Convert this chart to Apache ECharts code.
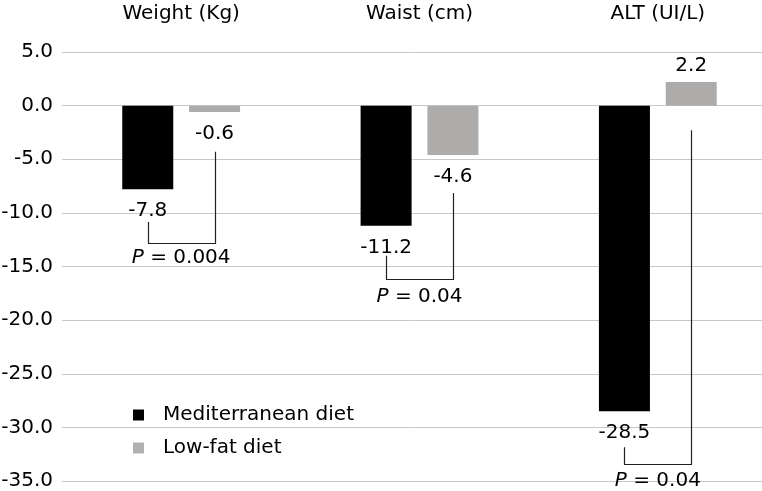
<!DOCTYPE html>
<html>
<head>
<meta charset="utf-8">
<script src="https://cdn.jsdelivr.net/npm/echarts@6/dist/echarts.min.js"></script>
<style>
html,body{margin:0;padding:0;background:#fff;}
#chart{width:762px;height:491px;}
</style>
</head>
<body>
<div id="chart"></div>
<script>
// ---- data ----
var categories = ['Weight (Kg)', 'Waist (cm)', 'ALT (UI/L)'];
var seriesNames = ['Mediterranean diet', 'Low-fat diet'];
var mediterranean = [-7.8, -11.2, -28.5];
var lowFat = [-0.6, -4.6, 2.2];
var yTicks = [5, 0, -5, -10, -15, -20, -25, -30, -35];
// significance brackets (value units): left top, right top, bottom, text position
var pLabels = ['0.004', '0.04', '0.04'];
var bracketLeftTop = [-10.85, -14.0, -31.85];
var bracketRightTop = [-4.3, -8.15, -2.3];
var bracketBottom = [-12.8, -16.2, -33.4];
var pTextPos = [-14.2, -17.85, -35.0];

// ---- style ----
var FONT = 'DejaVu Sans';
var FS = 20;
var BAR_W = 51;
var BAR_GAP = 0.31;
var barOffset = (BAR_W + BAR_W * BAR_GAP) / 2;

var chart = echarts.init(document.getElementById('chart'), null, {renderer: 'canvas'});

var bracketData = categories.map(function (c, i) {
  return [i, bracketLeftTop[i], bracketRightTop[i], bracketBottom[i], pTextPos[i]];
});

function barItem(v) {
  return {value: v, label: {position: v >= 0 ? 'top' : 'bottom', distance: v >= 0 ? 6 : 12}};
}

var option = {
  animation: false,
  textStyle: {fontFamily: FONT},
  grid: {left: 62, top: 52, bottom: 10, width: 715, containLabel: false, outerBoundsMode: 'none'},
  legend: {
    orient: 'vertical', left: 128, top: 400, itemWidth: 11, itemHeight: 11, itemGap: 13,
    icon: 'rect',
    textStyle: {fontFamily: FONT, fontSize: FS, color: '#000', padding: [0, 0, 0, 14]},
    data: [
      {name: seriesNames[0], itemStyle: {color: '#000'}},
      {name: seriesNames[1], itemStyle: {color: '#b0b0b0'}}
    ]
  },
  xAxis: {
    type: 'category', position: 'top', data: categories,
    axisLine: {show: false, onZero: false}, axisTick: {show: false},
    axisLabel: {fontFamily: FONT, fontSize: FS, color: '#000', margin: 28}
  },
  yAxis: {
    type: 'value', min: -35, max: 5, interval: 5,
    axisLine: {show: false}, axisTick: {show: false},
    axisLabel: {fontFamily: FONT, fontSize: FS, color: '#000', margin: 9,
      formatter: function (v) { return v.toFixed(1); }},
    splitLine: {lineStyle: {color: '#c8c8c8', width: 1}}
  },
  series: [
    {
      name: seriesNames[0], type: 'bar', barWidth: BAR_W, barGap: (BAR_GAP * 100) + '%',
      itemStyle: {color: '#000'},
      data: mediterranean.map(barItem),
      label: {show: true, fontFamily: FONT, fontSize: FS, color: '#000',
        formatter: function (p) { return p.value.toFixed(1); }}
    },
    {
      name: seriesNames[1], type: 'bar', barWidth: BAR_W,
      itemStyle: {color: '#aeabab'},
      data: lowFat.map(barItem),
      label: {show: true, fontFamily: FONT, fontSize: FS, color: '#000',
        formatter: function (p) { return p.value.toFixed(1); }}
    },
    {
      type: 'custom', silent: true, z: 5,
      data: bracketData,
      renderItem: function (params, api) {
        var idx = api.value(0);
        var cx = api.coord([idx, 0])[0];
        var xl = Math.round(cx - barOffset) + 0.5;
        var xr = Math.round(cx + barOffset) + 0.5;
        var yl = api.coord([idx, api.value(1)])[1];
        var yr = api.coord([idx, api.value(2)])[1];
        var yb = Math.round(api.coord([idx, api.value(3)])[1]) + 0.5;
        var yt = api.coord([idx, api.value(4)])[1];
        return {
          type: 'group',
          children: [
            {type: 'polyline', shape: {points: [[xl, yl], [xl, yb], [xr, yb], [xr, yr]]},
              style: {stroke: '#222', lineWidth: 1.2, fill: null}},
            {type: 'text', x: cx, y: yt,
              style: {text: '{i|P} = ' + pLabels[params.dataIndex], align: 'center', verticalAlign: 'middle',
                fontFamily: FONT, fontSize: FS, fill: '#000',
                rich: {i: {fontStyle: 'italic', fontFamily: FONT, fontSize: FS, fill: '#000'}}}}
          ]
        };
      }
    }
  ]
};
chart.setOption(option);
</script>
</body>
</html>
